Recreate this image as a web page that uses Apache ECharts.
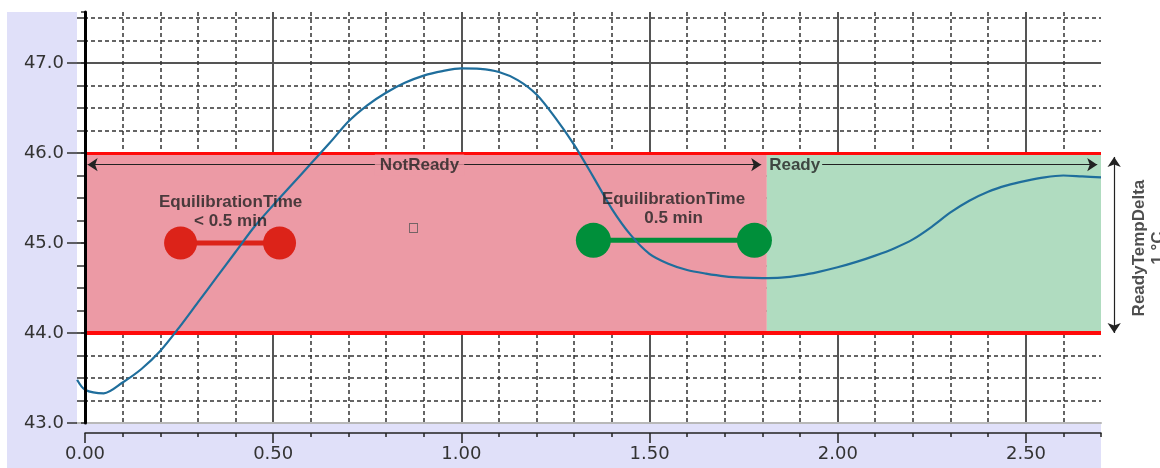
<!DOCTYPE html>
<html>
<head>
<meta charset="utf-8">
<script src="https://cdn.jsdelivr.net/npm/echarts@6/dist/echarts.min.js"></script>
<style>
  html, body { margin: 0; padding: 0; background: #fff; }
  #chart { width: 1160px; height: 468px; }
</style>
</head>
<body>
<div id="chart"></div>
<script>
// temperature trace, x = time (min), y = temperature
var curve = [
  [-0.021, 43.48], [0.00, 43.37], [0.05, 43.33], [0.10, 43.45], [0.15, 43.60],
  [0.20, 43.80], [0.25, 44.06], [0.30, 44.34], [0.35, 44.62], [0.40, 44.90],
  [0.45, 45.18], [0.50, 45.42], [0.55, 45.65], [0.60, 45.88], [0.65, 46.11],
  [0.70, 46.35], [0.75, 46.53], [0.80, 46.67], [0.85, 46.78], [0.90, 46.86],
  [0.95, 46.91], [1.00, 46.94], [1.05, 46.935], [1.10, 46.90], [1.15, 46.81],
  [1.20, 46.65], [1.25, 46.39], [1.30, 46.09], [1.35, 45.74], [1.40, 45.38],
  [1.45, 45.09], [1.50, 44.88], [1.55, 44.77], [1.60, 44.70], [1.65, 44.66],
  [1.70, 44.63], [1.75, 44.615], [1.80, 44.61], [1.85, 44.615], [1.90, 44.64],
  [1.95, 44.68], [2.00, 44.73], [2.05, 44.79], [2.10, 44.86], [2.15, 44.94],
  [2.20, 45.04], [2.25, 45.18], [2.30, 45.34], [2.35, 45.47], [2.40, 45.57],
  [2.45, 45.64], [2.50, 45.69], [2.55, 45.73], [2.60, 45.75], [2.65, 45.74],
  [2.70, 45.73]
]
var bandLow = 44
var bandHigh = 46
var readyFrom = 1.812
var xMax = 2.7
var redDots = [[0.254, 45.0], [0.517, 45.0]]
var greenDots = [[1.351, 45.03], [1.779, 45.03]]
var notes = [
  [0.889, 45.867, 'NotReady'],
  [1.886, 45.867, 'Ready'],
  [0.387, 45.344, 'EquilibrationTime\n< 0.5 min'],
  [1.564, 45.378, 'EquilibrationTime\n0.5 min']
]
var sideNote = [[2.828, 44.944, 'ReadyTempDelta\n1 °C']]
var oddMark = [[0.873, 45.167]]
var arrowY = 45.87
var deltaArrow = [2.735, 45.956, 44.0]

var pink = '#ec9aa5'
var green = '#b0dcc0'
var yTop = 43 + 411 / 90 // value at top of plot
var xLeft = -8 / 376.3 // plot starts a bit left of 0
var xRightOut = 2.7 + 59 / 376.3

var chart = echarts.init(document.getElementById('chart'))
var fontAxis = 'DejaVu Sans'
var fontNote = 'Liberation Sans'

var option = {
  animation: false,
  backgroundColor: '#fff',
  graphic: [{
    type: 'rect',
    z: -10,
    shape: { x: 7, y: 12, width: 1094, height: 456 },
    style: { fill: '#e0e0f9' }
  }],
  grid: [
    { left: 77, top: 12, width: 1024, bottom: 45, show: true, backgroundColor: '#fff', borderWidth: 0, outerBoundsMode: 'none' },
    { left: 85, top: 12, width: 1016, bottom: 45, outerBoundsMode: 'none' },
    { left: 77, top: 63, width: 1024, bottom: 45, outerBoundsMode: 'none' },
    { left: 85, top: 12, width: 941, bottom: 45, outerBoundsMode: 'none' },
    { left: 1101, top: 12, width: 59, bottom: 45, outerBoundsMode: 'none' }
  ],
  xAxis: [
    { // data axis
      gridIndex: 0, type: 'value', min: xLeft, max: xMax,
      axisLine: { show: true, lineStyle: { color: '#b8b8b8', width: 2 } },
      axisTick: { show: false }, axisLabel: { show: false }, splitLine: { show: false }
    },
    { // minor x
      gridIndex: 1, type: 'value', min: 0, max: xMax, interval: 0.1, offset: 10,
      axisLine: { show: true, lineStyle: { color: '#222', width: 1.5 } },
      axisTick: { show: true, length: 4, lineStyle: { color: '#222', width: 1.5 } },
      axisLabel: { show: false },
      splitLine: { show: true, showMinLine: false, showMaxLine: false, lineStyle: { color: '#333', width: 1.5, type: [4, 3] } }
    },
    { gridIndex: 2, type: 'value', min: 0, max: 1, show: false },
    { // major x
      gridIndex: 3, type: 'value', min: 0, max: 2.5, interval: 0.5, offset: 10,
      axisLine: { show: false },
      axisTick: { show: true, length: 10, lineStyle: { color: '#222', width: 1.5 } },
      axisLabel: {
        show: true, margin: 12, color: '#333', fontSize: 18, fontFamily: fontAxis,
        formatter: function (v) { return v.toFixed(2) }
      },
      splitLine: { show: true, lineStyle: { color: '#555', width: 2 } }
    },
    { gridIndex: 4, type: 'value', min: xMax, max: xRightOut, show: false }
  ],
  yAxis: [
    { // minor y + axis line
      gridIndex: 0, type: 'value', min: 43, max: yTop, interval: 0.25,
      axisLine: { show: true, lineStyle: { color: '#333', width: 1.5 } },
      axisTick: { show: true, length: 4, lineStyle: { color: '#333', width: 1.5 } },
      axisLabel: { show: false },
      splitLine: { show: true, showMinLine: false, showMaxLine: false, lineStyle: { color: '#333', width: 1.5, type: [4, 3] } }
    },
    { // thick zero line
      gridIndex: 1, type: 'value', min: 43, max: yTop, z: 5,
      axisLine: { show: true, lineStyle: { color: '#000', width: 3 } },
      axisTick: { show: false }, axisLabel: { show: false }, splitLine: { show: false }
    },
    { // major y with labels
      gridIndex: 2, type: 'value', min: 43, max: 47, interval: 1,
      axisLine: { show: false },
      axisTick: { show: true, length: 10, lineStyle: { color: '#333', width: 1.5 } },
      axisLabel: {
        show: true, margin: 13, color: '#333', fontSize: 18, fontFamily: fontAxis,
        formatter: function (v) { return v.toFixed(1) }
      },
      splitLine: { show: true, showMinLine: false, lineStyle: { color: '#555', width: 2 } }
    },
    { gridIndex: 3, type: 'value', min: 43, max: 47, show: false },
    { gridIndex: 4, type: 'value', min: 43, max: yTop, show: false }
  ],
  series: [
    {
      name: 'band', type: 'line', xAxisIndex: 0, yAxisIndex: 0, data: [], silent: true, z: 1,
      markArea: {
        silent: true, z: 1,
        data: [
          [{ coord: [0, bandLow], itemStyle: { color: pink, opacity: 1 } }, { coord: [readyFrom, bandHigh] }],
          [{ coord: [readyFrom, bandLow], itemStyle: { color: green, opacity: 1 } }, { coord: [xMax, bandHigh] }]
        ]
      },
      markLine: {
        silent: true, z: 2, symbol: 'none', label: { show: false },
        lineStyle: { color: '#ff0a0a', type: 'solid' },
        data: [
          [{ coord: [0, bandLow], lineStyle: { width: 4 } }, { coord: [xMax, bandLow] }],
          [{ coord: [0, bandHigh], lineStyle: { width: 3 } }, { coord: [xMax, bandHigh] }]
        ]
      }
    },
    {
      name: 'red', type: 'line', xAxisIndex: 0, yAxisIndex: 0, data: redDots, z: 3, silent: true,
      symbol: 'circle', symbolSize: 33, showSymbol: true,
      itemStyle: { color: '#dc2319' }, lineStyle: { color: '#dc2319', width: 5 }
    },
    {
      name: 'green', type: 'line', xAxisIndex: 0, yAxisIndex: 0, data: greenDots, z: 3, silent: true,
      symbol: 'circle', symbolSize: 35, showSymbol: true,
      itemStyle: { color: '#008f3a' }, lineStyle: { color: '#008f3a', width: 5 }
    },
    {
      name: 'temp', type: 'line', xAxisIndex: 0, yAxisIndex: 0, data: curve, z: 4,
      smooth: 0.3, symbol: 'none', clip: false,
      lineStyle: { color: '#1f6e9c', width: 2.2 }
    },
    {
      name: 'arrows', type: 'line', xAxisIndex: 0, yAxisIndex: 0, data: [], z: 5, silent: true,
      markLine: {
        silent: true, z: 5, symbol: ['arrow', 'arrow'], symbolSize: 10,
        label: { show: false },
        lineStyle: { color: '#222', width: 1.2, type: 'solid' },
        data: [
          [{ coord: [0.007, arrowY] }, { coord: [1.797, arrowY] }],
          [{ coord: [1.959, arrowY], symbol: 'none' }, { coord: [2.69, arrowY], symbol: 'arrow' }]
        ]
      }
    },
    {
      name: 'deltaArrow', type: 'line', xAxisIndex: 4, yAxisIndex: 4, data: [], z: 5, silent: true,
      markLine: {
        silent: true, z: 5, symbol: ['arrow', 'arrow'], symbolSize: 10,
        label: { show: false },
        lineStyle: { color: '#222', width: 1.2, type: 'solid' },
        data: [
          [{ coord: [deltaArrow[0], deltaArrow[1]] }, { coord: [deltaArrow[0], deltaArrow[2]] }]
        ]
      }
    },
    {
      name: 'notes', type: 'scatter', xAxisIndex: 0, yAxisIndex: 0, z: 6, silent: true, clip: false,
      symbolSize: 0,
      data: notes.map(function (n, i) {
        var item = { value: [n[0], n[1]], name: n[2] }
        if (i === 0) item.label = { backgroundColor: pink, padding: [1, 5] }
        return item
      }),
      label: {
        show: true, position: 'inside', color: '#222', fontSize: 17, fontWeight: 'bold',
        fontFamily: fontNote, lineHeight: 19, align: 'center',
        formatter: function (p) { return p.name }
      }
    },
    {
      name: 'sideNote', type: 'scatter', xAxisIndex: 4, yAxisIndex: 4, z: 6, silent: true, clip: false,
      symbolSize: 0,
      data: sideNote.map(function (n) { return { value: [n[0], n[1]], name: n[2] } }),
      label: {
        show: true, position: 'inside', rotate: 90, color: '#222', fontSize: 17, fontWeight: 'bold',
        fontFamily: fontNote, lineHeight: 19, align: 'center',
        formatter: function (p) { return p.name }
      }
    },
    {
      name: 'odd', type: 'scatter', xAxisIndex: 0, yAxisIndex: 0, z: 6, silent: true,
      data: oddMark, symbol: 'rect', symbolSize: [8, 9],
      itemStyle: { color: 'rgba(0,0,0,0)', borderColor: '#555', borderWidth: 1 }
    }
  ]
}
chart.setOption(option)
</script>
</body>
</html>
